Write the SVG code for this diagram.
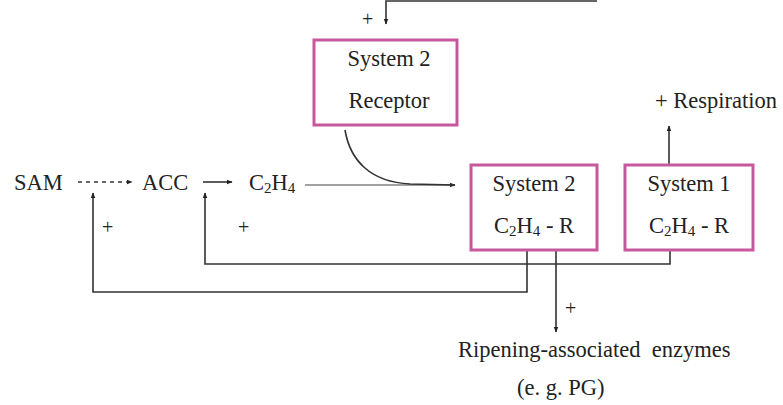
<svg xmlns="http://www.w3.org/2000/svg" width="783" height="405" viewBox="0 0 783 405">
<defs>
<marker id="ah" viewBox="0 0 10 10" refX="9" refY="5" markerWidth="6" markerHeight="6" orient="auto" markerUnits="userSpaceOnUse"><path d="M0,1 L10,5 L0,9 Z" fill="#222"/></marker>
<style>
text{font-family:"Liberation Serif","Times New Roman",serif;fill:#222;font-size:22.5px}
.box{fill:#fff;stroke:#c8589e;stroke-width:3}
.ln{fill:none;stroke:#333;stroke-width:1.6}
.thin{fill:none;stroke:#444;stroke-width:1}
.c{text-anchor:middle}
.p{font-size:20px}
.s{font-size:15px}
</style>
</defs>
<rect width="783" height="405" fill="#fff"/>
<g id="connectors">
<path class="ln" d="M597,1 H386 V24" marker-end="url(#ah)"/>
<path class="ln" d="M78,182 H132" stroke-dasharray="4,4" marker-end="url(#ah)"/>
<path class="ln" d="M203,182 H232" marker-end="url(#ah)"/>
<path class="thin" d="M305,185 H455" marker-end="url(#ah)"/>
<path class="ln" d="M345,130 C350,160 370,182 410,184 L455,185" stroke-width="2"/>
<path class="ln" d="M527,250 V292 H93 V193" marker-end="url(#ah)"/>
<path class="ln" d="M670,250 V264 H205 V193" marker-end="url(#ah)"/>
<path class="ln" d="M556,250 V332" marker-end="url(#ah)"/>
<path class="ln" d="M669,165 V126" marker-end="url(#ah)"/>
</g>
<g id="receptor">
<rect class="box" x="314" y="40" width="143" height="85"/>
<text class="c" x="389" y="66">System 2</text>
<text class="c" x="389" y="108">Receptor</text>
</g>
<g id="sys2">
<rect class="box" x="471" y="165" width="126" height="85"/>
<text class="c" x="534" y="191">System 2</text>
<text class="c" x="534" y="233">C<tspan class="s" dy="3">2</tspan><tspan dy="-3">H</tspan><tspan class="s" dy="3">4</tspan><tspan dy="-3"> - R</tspan></text>
</g>
<g id="sys1">
<rect class="box" x="625" y="165" width="128" height="85"/>
<text class="c" x="689" y="191">System 1</text>
<text class="c" x="689" y="233">C<tspan class="s" dy="3">2</tspan><tspan dy="-3">H</tspan><tspan class="s" dy="3">4</tspan><tspan dy="-3"> - R</tspan></text>
</g>
<g id="sam"><text x="14" y="190">SAM</text></g>
<g id="acc"><text x="142" y="190">ACC</text></g>
<g id="c2h4"><text x="249" y="190">C<tspan class="s" dy="3">2</tspan><tspan dy="-3">H</tspan><tspan class="s" dy="3">4</tspan></text></g>
<g id="resp"><text x="655" y="108">+ Respiration</text></g>
<g id="enz">
<text x="458" y="357" xml:space="preserve">Ripening-associated  enzymes</text>
<text x="517" y="395" xml:space="preserve">(e. g. PG)</text>
</g>
<g id="plus">
<text class="p" x="362" y="26">+</text>
<text class="p" x="102" y="234">+</text>
<text class="p" x="238" y="234">+</text>
<text class="p" x="565" y="315">+</text>
</g>
</svg>
